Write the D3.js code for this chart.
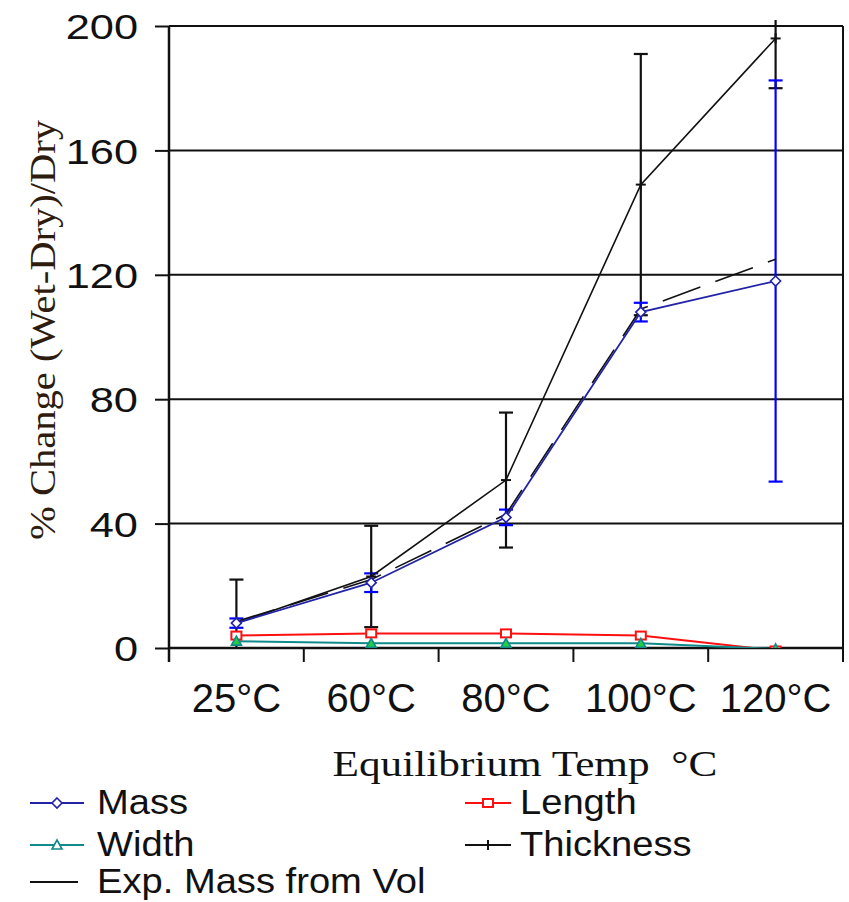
<!DOCTYPE html>
<html>
<head>
<meta charset="utf-8">
<script src="https://cdn.jsdelivr.net/npm/d3@7/dist/d3.min.js"></script>
<style>
  html, body { margin: 0; padding: 0; background: #fff; }
  svg { display: block; }
</style>
</head>
<body>
<svg id="chart" width="849" height="902"></svg>
<script>
// Equilibrium temperatures (categories)
const categories = ["25°C", "60°C", "80°C", "100°C", "120°C"];
const yTicks = [0, 40, 80, 120, 160, 200];

// % change (wet - dry) / dry for each dimension
const massValues      = [8, 21, 42, 108, 118];
const massErr         = [1.5, 3, 2.5, 3, 64.5];
const lengthValues    = [4, 4.7, 4.7, 4, -0.8];
const widthValues     = [2.2, 1.5, 1.5, 1.5, -0.3];
const thicknessValues = [8, 23, 54, 149, 196];
const thicknessErr    = [14, 16.3, 21.7, 42, 16];
const expMassValues   = [8.5, 22, 43, 109, 125];

const svg = d3.select("#chart");
const plotLeft = 169, plotRight = 843, plotTop = 26, plotBottom = 648;

const x = d3.scaleBand().domain(categories).range([plotLeft, plotRight]);
const y = d3.scaleLinear().domain([0, 200]).range([plotBottom, plotTop]);
const cx = c => x(c) + x.bandwidth() / 2;

// stretch a text element horizontally around its anchor x
function stretchX(sel, k) {
  sel.each(function () {
    const t = d3.select(this);
    const tx = +t.attr("x") || 0;
    t.attr("transform", `translate(${tx},0) scale(${k},1) translate(${-tx},0)`);
  });
}

// clip for data (error bars may poke slightly above the frame)
svg.append("defs").append("clipPath").attr("id", "plotClip")
  .append("rect").attr("x", plotLeft).attr("y", plotTop - 6)
  .attr("width", plotRight - plotLeft).attr("height", plotBottom - plotTop + 6);

// horizontal gridlines
svg.append("g").selectAll("line").data(yTicks.filter(d => d > 0)).join("line")
  .attr("x1", plotLeft).attr("x2", plotRight)
  .attr("y1", d => y(d)).attr("y2", d => y(d))
  .attr("stroke", "#111").attr("stroke-width", 2);

// right frame
svg.append("line").attr("x1", plotRight).attr("x2", plotRight)
  .attr("y1", plotTop).attr("y2", plotBottom + 14)
  .attr("stroke", "#111").attr("stroke-width", 2);

// y axis
const yAxis = svg.append("g").attr("transform", `translate(${plotLeft},0)`)
  .call(d3.axisLeft(y).tickValues(yTicks).tickSize(14).tickPadding(17).tickFormat(d3.format("d")));
yAxis.select(".domain").attr("d", `M0,${plotTop}V${plotBottom + 14}`).attr("stroke", "#111").attr("stroke-width", 2.5);
yAxis.selectAll(".tick line").attr("stroke", "#111").attr("stroke-width", 2);
yAxis.selectAll(".tick text")
  .attr("font-family", "'Liberation Sans', Arial, sans-serif")
  .attr("font-size", 35).attr("fill", "#111")
  .attr("dy", "0.36em")
  .call(stretchX, 1.24);

// x axis: baseline with ticks between categories
svg.append("line").attr("x1", plotLeft).attr("x2", plotRight)
  .attr("y1", plotBottom).attr("y2", plotBottom)
  .attr("stroke", "#111").attr("stroke-width", 2.5);
const bounds = categories.slice(1).map(c => x(c));
svg.append("g").selectAll("line").data(bounds).join("line")
  .attr("x1", d => d).attr("x2", d => d)
  .attr("y1", plotBottom).attr("y2", plotBottom + 14)
  .attr("stroke", "#111").attr("stroke-width", 2);
svg.append("g").selectAll("text").data(categories).join("text")
  .attr("x", d => cx(d)).attr("y", 712)
  .attr("text-anchor", "middle")
  .attr("font-family", "'Liberation Sans', Arial, sans-serif")
  .attr("font-size", 40).attr("fill", "#111")
  .text(d => d);

// axis titles
svg.append("text")
  .attr("transform", "translate(55,330) rotate(-90)")
  .attr("text-anchor", "middle")
  .attr("font-family", "'Liberation Serif', 'Times New Roman', serif")
  .attr("font-size", 35).attr("fill", "#2e1c0e")
  .attr("textLength", 420).attr("lengthAdjust", "spacingAndGlyphs")
  .text("% Change (Wet-Dry)/Dry");
svg.append("text")
  .attr("x", 525).attr("y", 776)
  .attr("text-anchor", "middle")
  .attr("font-family", "'Liberation Serif', 'Times New Roman', serif")
  .attr("font-size", 35).attr("fill", "#111")
  .attr("xml:space", "preserve")
  .attr("textLength", 385).attr("lengthAdjust", "spacingAndGlyphs")
  .text("Equilibrium Temp  °C");

// data layer
const plot = svg.append("g").attr("clip-path", "url(#plotClip)");
const line = d3.line().x((d, i) => cx(categories[i])).y(d => y(d));

function errorBars(vals, errs, color) {
  const g = plot.append("g").attr("stroke", color).attr("stroke-width", 2.2);
  vals.forEach((v, i) => {
    const px = cx(categories[i]);
    const hi = y(v + errs[i]), lo = y(v - errs[i]);
    g.append("line").attr("x1", px).attr("x2", px).attr("y1", hi).attr("y2", lo);
    g.append("line").attr("x1", px - 7).attr("x2", px + 7).attr("y1", hi).attr("y2", hi);
    g.append("line").attr("x1", px - 7).attr("x2", px + 7).attr("y1", lo).attr("y2", lo);
  });
}

errorBars(thicknessValues, thicknessErr, "#111");
errorBars(massValues, massErr, "#0000ff");

// series lines
plot.append("path").datum(lengthValues).attr("d", line)
  .attr("fill", "none").attr("stroke", "#ff1010").attr("stroke-width", 2);
plot.append("path").datum(widthValues).attr("d", line)
  .attr("fill", "none").attr("stroke", "#108a8a").attr("stroke-width", 2);
plot.append("path").datum(expMassValues).attr("d", line)
  .attr("fill", "none").attr("stroke", "#111").attr("stroke-width", 1.6)
  .attr("stroke-dasharray", "40,16");
plot.append("path").datum(thicknessValues).attr("d", line)
  .attr("fill", "none").attr("stroke", "#111").attr("stroke-width", 1.6);
plot.append("path").datum(massValues).attr("d", line)
  .attr("fill", "none").attr("stroke", "#2323a8").attr("stroke-width", 1.8);

// markers
function diamond(g, px, py, color) {
  g.append("path").attr("d", `M${px},${py - 5}L${px + 5},${py}L${px},${py + 5}L${px - 5},${py}Z`)
    .attr("fill", "#fff").attr("stroke", color).attr("stroke-width", 1.6);
}
function square(g, px, py, color) {
  g.append("rect").attr("x", px - 5).attr("y", py - 4).attr("width", 10).attr("height", 8)
    .attr("fill", "#fff").attr("stroke", color).attr("stroke-width", 2);
}
function triangle(g, px, py, color, fill) {
  g.append("path").attr("d", `M${px},${py - 5}L${px + 5},${py + 4}L${px - 5},${py + 4}Z`)
    .attr("fill", fill).attr("stroke", color).attr("stroke-width", 1.6);
}
function tick(g, px, py, color) {
  g.append("line").attr("x1", px).attr("x2", px).attr("y1", py - 5).attr("y2", py + 5)
    .attr("stroke", color).attr("stroke-width", 2);
  g.append("line").attr("x1", px - 5).attr("x2", px + 5).attr("y1", py).attr("y2", py)
    .attr("stroke", color).attr("stroke-width", 2);
}

const mk = plot.append("g");
lengthValues.forEach((v, i) => square(mk, cx(categories[i]), y(v), "#ff1010"));
widthValues.forEach((v, i) => triangle(mk, cx(categories[i]), y(v), "#108a8a", "#22cc44"));
thicknessValues.forEach((v, i) => tick(mk, cx(categories[i]), y(v), "#111"));
massValues.forEach((v, i) => diamond(mk, cx(categories[i]), y(v), "#2323a8"));

// legend
const legend = svg.append("g")
  .attr("font-family", "'Liberation Sans', Arial, sans-serif")
  .attr("font-size", 35).attr("fill", "#111");
const items = [
  { name: "Mass", color: "#2323a8", lx: 30, len: 54, ty: 803, m: diamond },
  { name: "Length", color: "#ff1010", lx: 465, len: 46, ty: 803, m: square },
  { name: "Width", color: "#108a8a", lx: 30, len: 54, ty: 845, m: (g, a, b, c) => triangle(g, a, b, c, "#fff") },
  { name: "Thickness", color: "#111", lx: 465, len: 46, ty: 845, m: tick },
  { name: "Exp. Mass from Vol", color: "#111", lx: 30, len: 48, ty: 882, m: null }
];
items.forEach(it => {
  legend.append("line").attr("x1", it.lx).attr("x2", it.lx + it.len)
    .attr("y1", it.ty).attr("y2", it.ty)
    .attr("stroke", it.color).attr("stroke-width", 2);
  if (it.m) it.m(legend, it.lx + it.len / 2, it.ty, it.color);
  const tx = it.lx < 100 ? 97 : 520;
  legend.append("text").attr("x", tx).attr("y", it.ty + 11)
    .text(it.name)
    .call(stretchX, 1.09);
});
</script>
</body>
</html>
